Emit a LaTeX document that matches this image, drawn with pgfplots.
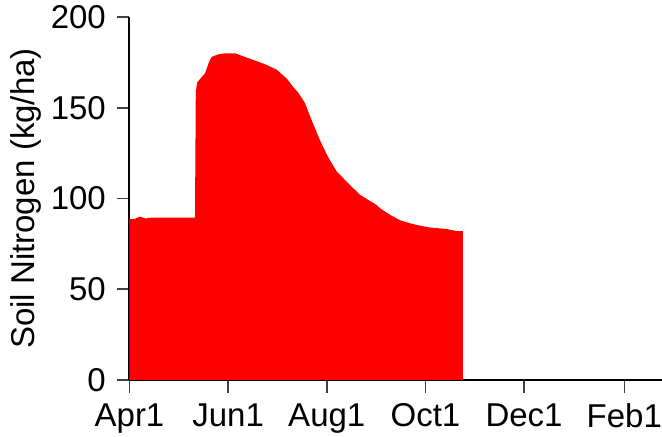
\documentclass[border=0pt]{standalone}
\usepackage{pgfplots}
\pgfplotsset{compat=1.18}
\usepackage{fontspec}
\setmainfont{Liberation Sans}
\begin{document}
\fontsize{16}{19}\selectfont
\begin{tikzpicture}
\begin{axis}[
  at={(0,0)}, anchor=south west,
  scale only axis,
  width=266.25pt, height=181.5pt,
  xmin=0, xmax=329.3, ymin=0, ymax=200,
  axis x line=bottom, axis y line=left,
  axis line style={-, black, line width=1pt},
  x axis line style={line width=1.4pt},
  xtick={0,61,122,183,244,306},
  xticklabels={Apr1,Jun1,Aug1,Oct1,Dec1,Feb1},
  ytick={0,50,100,150,200},
  tick align=outside,
  major tick length=6.3pt,
  tick style={black!75, line width=0.8pt},
  ylabel={Soil Nitrogen (kg/ha)},
  ylabel style={yshift=-6pt},
  tick label style={font=\fontsize{16.5}{19}\selectfont},
  label style={font=\fontsize{16.5}{19}\selectfont},
  /pgf/number format/assume math mode=true,
  clip=false,
]
\addplot[fill=red, draw=none] coordinates {
(0,88.7) (3,88.7) (6.4,90) (10,89) (14,89.5) (18.7,89.5) (30,89.5) (40.5,89.5)
(41.0,158.8) (41.9,164) (46.7,169) (49.1,175) (50.8,178) (54.4,179.3) (59.1,180) (65.2,180)
(74.5,177) (82.6,174.4) (91.0,171) (97.3,166) (101.1,161.6) (104.2,158.5) (108.5,152.6)
(112.7,143) (117.8,132) (122.7,123) (128.2,114.8) (136.3,107.4) (142.6,102) (152.8,96.4)
(155.0,94.6) (161.1,91) (167.3,88) (173.6,86.3) (179.7,85) (185.9,84) (196.1,83.2)
(202.4,82) (206.1,82)
} \closedcycle;
\end{axis}
\pgfresetboundingbox
\path (-64.75pt,-28.5pt) rectangle (266.25pt,190pt);
\end{tikzpicture}
\end{document}
